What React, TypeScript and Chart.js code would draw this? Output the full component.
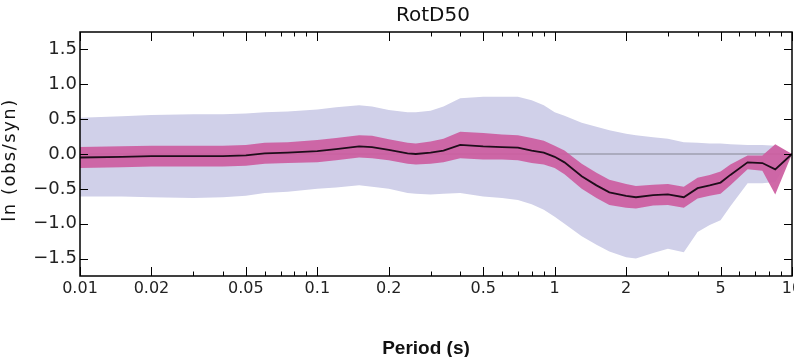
import { useEffect, useRef } from "react";
import { Chart, registerables } from "chart.js";

Chart.register(...registerables);

// Spectral periods (s)
const periods = [
  0.01, 0.015, 0.02, 0.03, 0.04, 0.05, 0.06, 0.075, 0.1, 0.12, 0.15, 0.17, 0.2,
  0.24, 0.26, 0.3, 0.34, 0.4, 0.5, 0.6, 0.7, 0.8, 0.9, 1.0, 1.1, 1.3, 1.5, 1.7,
  2.0, 2.2, 2.6, 3.0, 3.5, 4.0, 4.5, 5.0, 5.5, 6.5, 7.5, 8.5, 10,
];

// Mean ln(obs/syn) residual
const meanResidual = [
  -0.05, -0.04, -0.03, -0.03, -0.03, -0.02, 0.01, 0.02, 0.04, 0.07, 0.11, 0.1, 0.06,
  0.01, 0.0, 0.02, 0.05, 0.13, 0.11, 0.1, 0.09, 0.05, 0.02, -0.04, -0.12, -0.32, -0.45, -0.55,
  -0.6, -0.62, -0.59, -0.58, -0.62, -0.49, -0.45, -0.41, -0.3, -0.12, -0.13, -0.22, 0.0,
];

// Half-width of the inner (standard error) band
const stdError = [
  0.15, 0.15, 0.15, 0.15, 0.15, 0.15, 0.15, 0.15, 0.16, 0.16, 0.16, 0.16, 0.15,
  0.15, 0.15, 0.16, 0.17, 0.19, 0.19, 0.18, 0.18, 0.18, 0.17, 0.16, 0.17, 0.18, 0.18, 0.18,
  0.17, 0.16, 0.15, 0.15, 0.15, 0.15, 0.15, 0.16, 0.15, 0.1, 0.11, 0.36, 0.0,
];

// Outer (standard deviation) band limits
const sigmaUpper = [
  0.52, 0.54, 0.56, 0.57, 0.57, 0.58, 0.6, 0.61, 0.64, 0.67, 0.7, 0.68, 0.63,
  0.6, 0.6, 0.62, 0.68, 0.8, 0.82, 0.82, 0.82, 0.77, 0.7, 0.6, 0.55, 0.45, 0.39, 0.34,
  0.29, 0.27, 0.24, 0.22, 0.17, 0.16, 0.15, 0.15, 0.14, 0.13, 0.13, 0.12, 0.0,
];
const sigmaLower = [
  -0.61, -0.61, -0.62, -0.63, -0.62, -0.6, -0.56, -0.54, -0.5, -0.48, -0.45, -0.47, -0.5,
  -0.56, -0.57, -0.58, -0.57, -0.56, -0.61, -0.63, -0.66, -0.72, -0.8, -0.9, -1.0, -1.18, -1.3, -1.4,
  -1.48, -1.5, -1.42, -1.36, -1.41, -1.12, -1.02, -0.95, -0.75, -0.42, -0.42, -0.4, 0.0,
];

const xTickValues = [0.01, 0.02, 0.05, 0.1, 0.2, 0.5, 1, 2, 5, 10];
const xTickLabels = ["0.01", "0.02", "0.05", "0.1", "0.2", "0.5", "1", "2", "5", "10"];
const yTickValues = [-1.5, -1.0, -0.5, 0.0, 0.5, 1.0, 1.5];
const yTickLabels = ["\u22121.5", "\u22121.0", "\u22120.5", "0.0", "0.5", "1.0", "1.5"];

const chartTitle = "RotD50";
const xAxisTitle = "Period (s)";
const yAxisTitle = "ln (obs/syn)";

const LAVENDER = "rgb(208,208,233)";
const PINK = "rgba(204,92,160,0.92)";
const MEAN_COLOR = "#1e0d1a";
const ZERO_COLOR = "rgba(110,110,120,0.75)";

const W = 794;
const H = 357;

const framePlugin = {
  id: "frame",
  afterDraw(chart: any) {
    const { ctx, chartArea: a, scales } = chart;
    const xs = scales.x;
    const ys = scales.y;
    ctx.save();

    // inward tick marks on all four sides
    ctx.strokeStyle = "#000";
    ctx.lineWidth = 1;
    const xTick = (v: number, len: number) => {
      const px = Math.round(xs.getPixelForValue(v)) + 0.5;
      ctx.beginPath();
      ctx.moveTo(px, a.bottom);
      ctx.lineTo(px, a.bottom - len);
      ctx.moveTo(px, a.top);
      ctx.lineTo(px, a.top + len);
      ctx.stroke();
    };
    [0.01, 0.1, 1].forEach((dec) => {
      for (let m = 1; m <= 9; m++) {
        const major = m === 1 || m === 2 || m === 5;
        xTick(m * dec, major ? 9 : 4.5);
      }
    });
    xTick(10, 9);
    yTickValues.forEach((v) => {
      const py = Math.round(ys.getPixelForValue(v)) + 0.5;
      ctx.beginPath();
      ctx.moveTo(a.left, py);
      ctx.lineTo(a.left + 8, py);
      ctx.moveTo(a.right, py);
      ctx.lineTo(a.right - 8, py);
      ctx.stroke();
    });

    // frame
    ctx.lineWidth = 1.5;
    ctx.strokeRect(a.left, a.top, a.right - a.left, a.bottom - a.top);

    // title
    ctx.fillStyle = "#111";
    ctx.font = '20px "DejaVu Sans"';
    ctx.textAlign = "center";
    ctx.textBaseline = "alphabetic";
    ctx.fillText(chartTitle, 433, 21);

    // x axis title
    ctx.font = 'bold 19px "Liberation Sans"';
    ctx.fillText(xAxisTitle, 426, 354);

    // y axis title
    ctx.translate(10, 160);
    ctx.rotate(-Math.PI / 2);
    ctx.font = '18px "DejaVu Sans"';
    (ctx as any).letterSpacing = "1.5px";
    ctx.textBaseline = "middle";
    ctx.fillText(yAxisTitle, 0, 0);
    ctx.restore();
  },
};

export default function App() {
  const ref = useRef<HTMLCanvasElement | null>(null);

  useEffect(() => {
    if (!ref.current) return;
    const pts = (vals: number[]) => periods.map((p, i) => ({ x: p, y: vals[i] }));
    const chart = new Chart(ref.current, {
      type: "line",
      data: {
        datasets: [
          {
            data: pts(sigmaUpper),
            borderWidth: 0,
            pointRadius: 0,
            fill: "+1",
            backgroundColor: LAVENDER,
            borderColor: "transparent",
            order: 5,
          },
          {
            data: pts(sigmaLower),
            borderWidth: 0,
            pointRadius: 0,
            fill: false,
            borderColor: "transparent",
            order: 5,
          },
          {
            data: [
              { x: 0.01, y: 0 },
              { x: 10, y: 0 },
            ],
            borderWidth: 1.2,
            pointRadius: 0,
            fill: false,
            borderColor: ZERO_COLOR,
            order: 4,
          },
          {
            data: pts(meanResidual.map((m, i) => m + stdError[i])),
            borderWidth: 0,
            pointRadius: 0,
            fill: "+1",
            backgroundColor: PINK,
            borderColor: "transparent",
            order: 3,
          },
          {
            data: pts(meanResidual.map((m, i) => m - stdError[i])),
            borderWidth: 0,
            pointRadius: 0,
            fill: false,
            borderColor: "transparent",
            order: 3,
          },
          {
            data: pts(meanResidual),
            borderWidth: 1.8,
            pointRadius: 0,
            fill: false,
            borderColor: MEAN_COLOR,
            order: 0,
          },
        ],
      },
      options: {
        responsive: false,
        animation: false,
        devicePixelRatio: 1,
        layout: { padding: { top: 32, right: 2, left: 0, bottom: 0 } },
        plugins: {
          legend: { display: false },
          title: { display: false },
          tooltip: { enabled: false },
        },
        elements: { line: { tension: 0 } },
        scales: {
          x: {
            type: "logarithmic",
            min: 0.01,
            max: 10,
            grid: { display: false, drawTicks: false },
            border: { display: false },
            ticks: {
              autoSkip: false,
              maxRotation: 0,
              padding: 3,
              color: "#222",
              font: { family: "DejaVu Sans", size: 16 },
              callback: (v: any) => {
                const i = xTickValues.findIndex((t) => Math.abs(t - Number(v)) < 1e-9);
                return i >= 0 ? xTickLabels[i] : "";
              },
            },
            afterBuildTicks: (s: any) => {
              s.ticks = xTickValues.map((v) => ({ value: v }));
            },
            afterFit: (s: any) => {
              s.height = 81;
              s.paddingLeft = 0;
              s.paddingRight = 0;
            },
          },
          y: {
            type: "linear",
            min: -1.75,
            max: 1.75,
            grid: { display: false, drawTicks: false },
            border: { display: false },
            ticks: {
              padding: 3,
              color: "#222",
              font: { family: "DejaVu Sans", size: 18 },
              callback: (v: any) => {
                const i = yTickValues.findIndex((t) => Math.abs(t - Number(v)) < 1e-9);
                return i >= 0 ? yTickLabels[i] : "";
              },
            },
            afterBuildTicks: (s: any) => {
              s.ticks = yTickValues.map((v) => ({ value: v }));
            },
            afterFit: (s: any) => {
              s.width = 80;
              s.paddingTop = 0;
              s.paddingBottom = 0;
            },
          },
        },
      },
      plugins: [framePlugin],
    });
    return () => chart.destroy();
  }, []);

  return (
    <div style={{ position: "fixed", left: 0, top: 0, width: W, height: H, background: "#fff" }}>
      <canvas ref={ref} width={W} height={H} style={{ width: W, height: H, display: "block" }} />
    </div>
  );
}
